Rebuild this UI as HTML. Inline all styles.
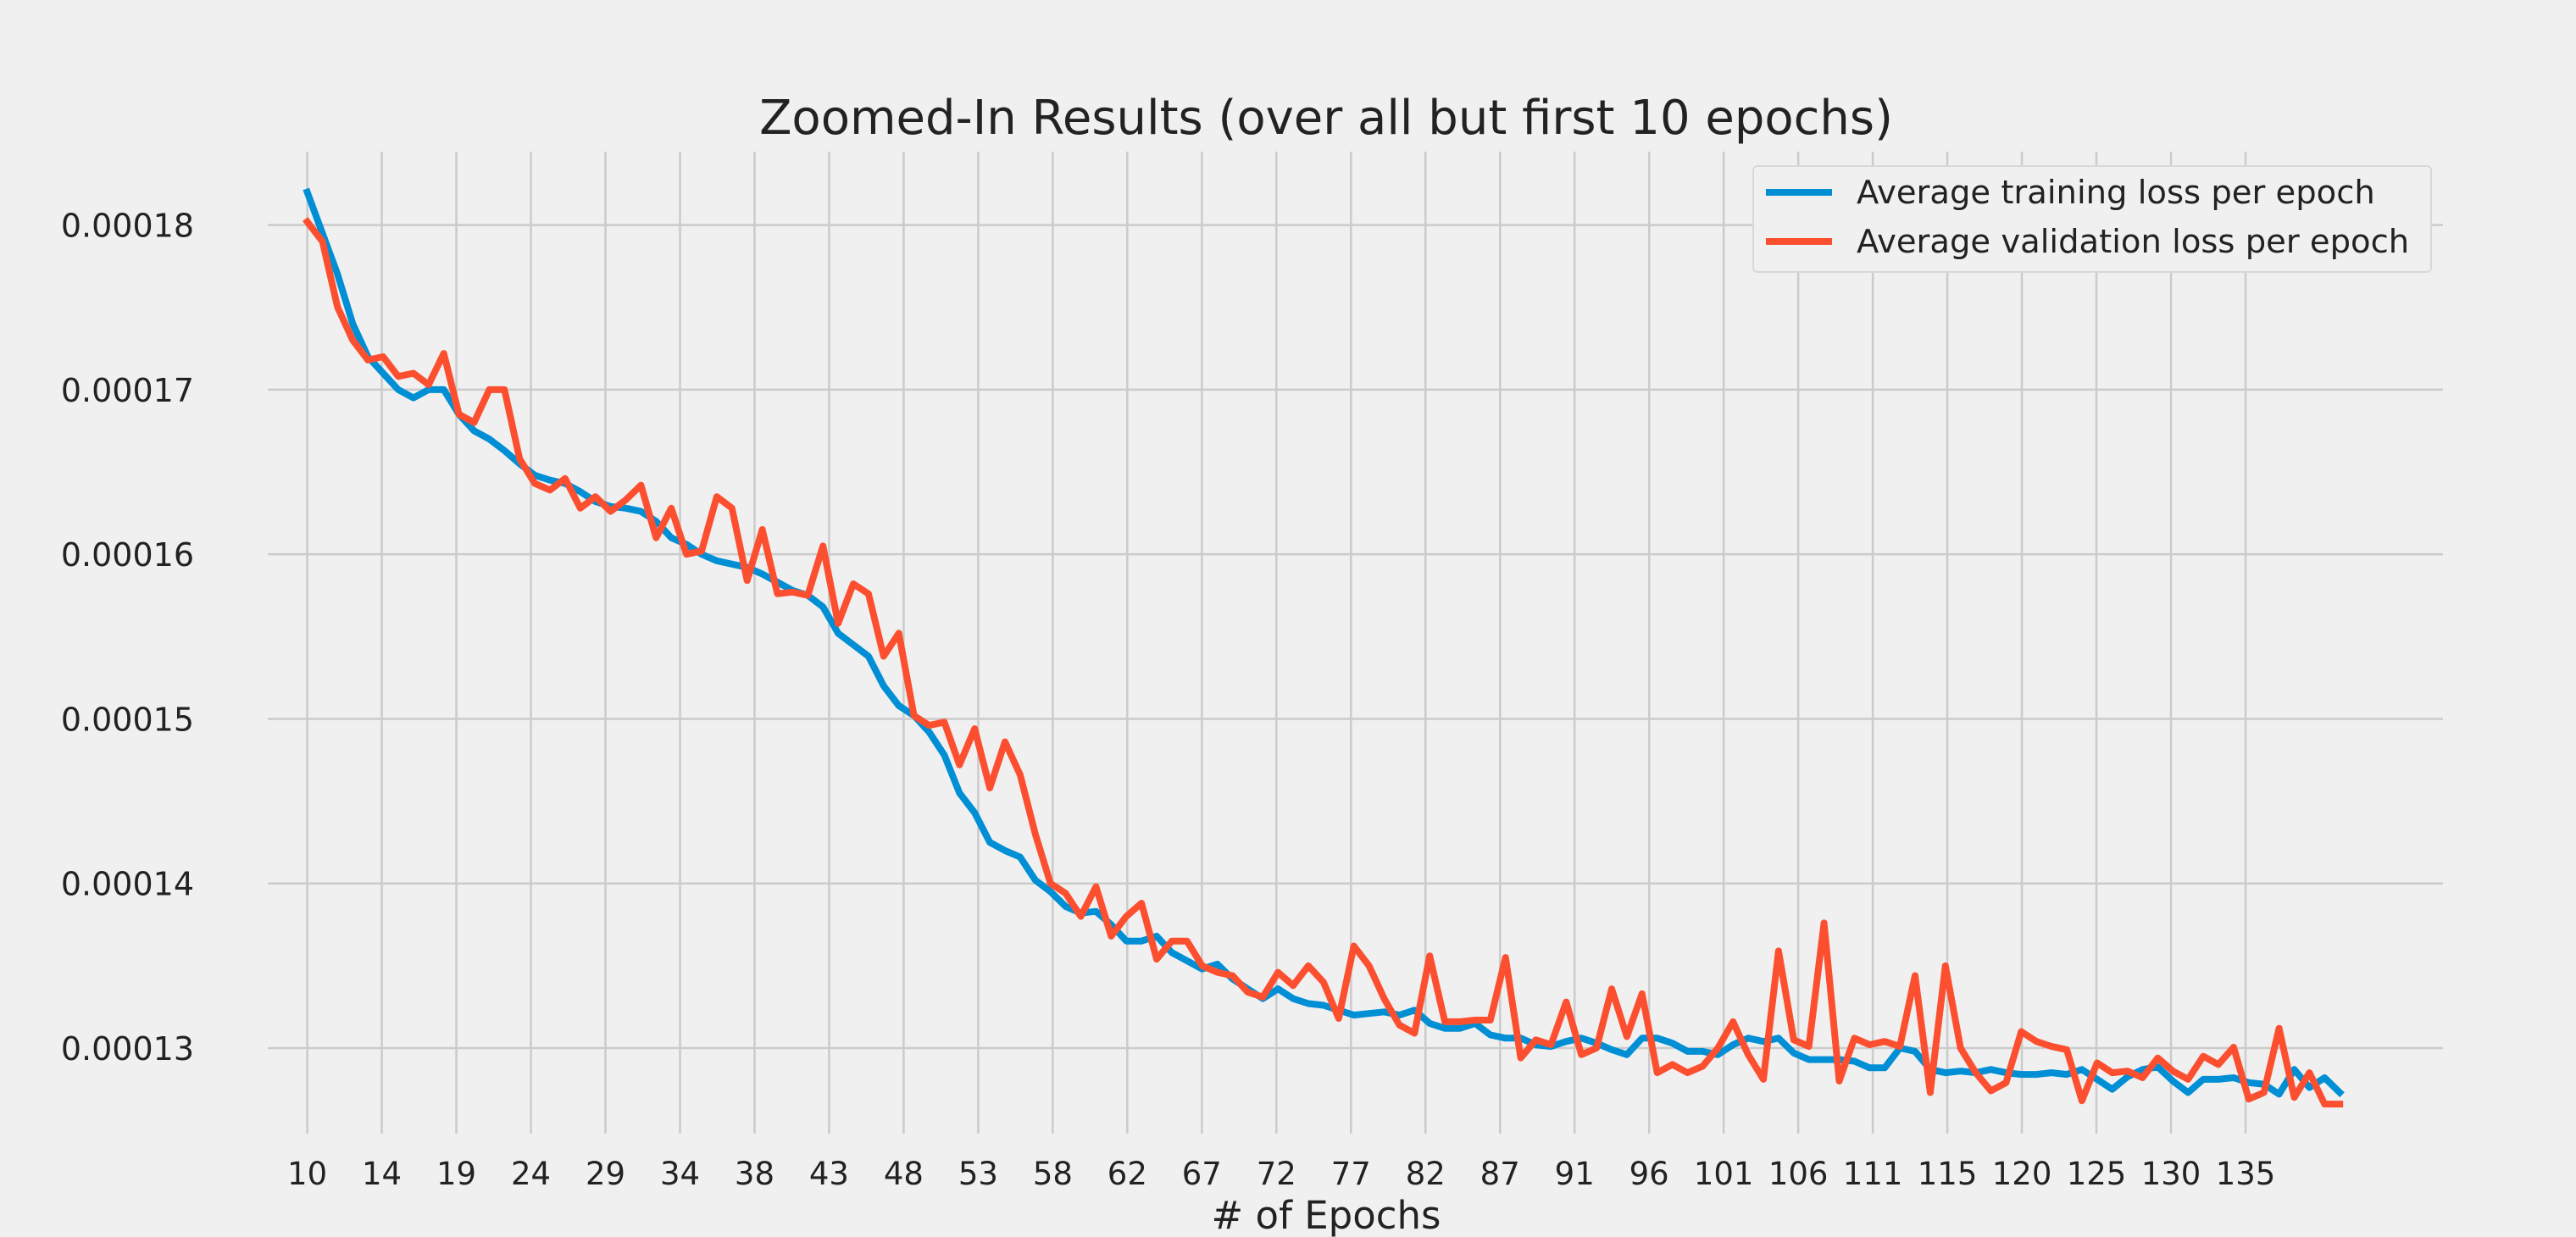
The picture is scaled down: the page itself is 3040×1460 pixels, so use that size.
<!DOCTYPE html>
<html><head><meta charset="utf-8"><style>
html,body{margin:0;padding:0;background:#f0f0f0}
svg{display:block;font-family:"DejaVu Sans","Liberation Sans",sans-serif}
</style></head><body>
<svg id="chart" width="3040" height="1460" viewBox="0 0 3040 1460" xmlns="http://www.w3.org/2000/svg">
<rect width="3040" height="1460" fill="#f0f0f0"/>
<text x="1565" y="158" font-size="56" text-anchor="middle" fill="#222">Zoomed-In Results (over all but first 10 epochs)</text>
<g id="grid"></g>
<g id="ticks"></g>
<g id="series"></g>
<text x="1565" y="1450" font-size="45" text-anchor="middle" fill="#222"># of Epochs</text>
<g>
<rect x="2069" y="196" width="800" height="125" fill="#f0f0f0" stroke="#d8d8d8" stroke-width="2" rx="5"/>
<line x1="2084" y1="227" x2="2162" y2="227" stroke="#008fd5" stroke-width="8"/>
<text x="2191" y="240" font-size="38.5" fill="#222">Average training loss per epoch</text>
<line x1="2084" y1="285" x2="2162" y2="285" stroke="#fc4f30" stroke-width="8"/>
<text x="2191" y="298" font-size="38.5" fill="#222">Average validation loss per epoch</text>
</g>
</svg>
<script>
const xTickLabels=[10,14,19,24,29,34,38,43,48,53,58,62,67,72,77,82,87,91,96,101,106,111,115,120,125,130,135];
const yTickValues=[0.00013,0.00014,0.00015,0.00016,0.00017,0.00018];
const yTickLabels=["0.00013","0.00014","0.00015","0.00016","0.00017","0.00018"];
const trainLoss=[182,179.5,177,174,172,171,170,169.5,170,170,
168.5,167.5,167,166.3,165.5,164.8,164.5,164.3,163.8,163.2,
162.9,162.8,162.6,162,161,160.6,160,159.6,159.4,159.2,
158.8,158.3,157.8,157.5,156.8,155.2,154.5,153.8,152,150.8,
150.2,149.2,147.8,145.5,144.3,142.5,142,141.6,140.2,139.5,
138.6,138.2,138.3,137.5,136.5,136.5,136.8,135.8,135.3,134.8,
135.1,134.2,133.6,133,133.6,133,132.7,132.6,132.3,132,
132.1,132.2,132,132.3,131.5,131.2,131.2,131.5,130.8,130.6,
130.6,130.2,130.1,130.4,130.6,130.3,129.9,129.6,130.6,130.6,
130.3,129.8,129.8,129.6,130.2,130.6,130.4,130.6,129.7,129.3,
129.3,129.3,129.2,128.8,128.8,130,129.8,128.7,128.5,128.6,
128.5,128.7,128.5,128.4,128.4,128.5,128.4,128.7,128.1,127.5,
128.25,128.7,128.85,128,127.3,128.1,128.1,128.2,127.9,127.8,127.2,128.7,127.6,128.2,127.3];
const valLoss=[180.2,179,175,173,171.8,172,170.8,171,170.3,172.2,
168.5,168,170,170,165.8,164.3,163.9,164.6,162.8,163.5,
162.6,163.3,164.2,161,162.8,160,160.2,163.5,162.8,158.4,
161.5,157.6,157.7,157.5,160.5,155.8,158.2,157.6,153.8,155.2,
150.2,149.6,149.8,147.2,149.4,145.8,148.6,146.6,143,140,
139.4,138,139.8,136.8,138,138.8,135.4,136.5,136.5,135,
134.6,134.4,133.4,133.1,134.6,133.8,135,134,131.8,136.2,
135,133,131.4,130.9,135.6,131.6,131.6,131.7,131.7,135.5,
129.4,130.5,130.2,132.8,129.6,130,133.6,130.7,133.3,128.5,
129,128.5,128.9,130,131.6,129.6,128.1,135.9,130.5,130.1,
137.6,128,130.6,130.2,130.4,130.1,134.4,127.3,135,130,
128.5,127.4,127.9,131,130.4,130.1,129.9,126.8,129.1,128.5,
128.6,128.2,129.4,128.6,128.1,129.5,129.0,130.05,126.9,127.3,131.2,127.0,128.5,126.6,126.6];
const NS='http://www.w3.org/2000/svg';
function xIndex(i){return 362.6+i*17.9;}
function xTick(i){return 362.6+i*(2650-362.6)/26;}
function yScale(v){return 265.6+(0.00018-v)/0.00005*(1237-265.6);}
function yUnit(u){return yScale(u*1e-6);}
const grid=document.getElementById('grid'),ticks=document.getElementById('ticks'),series=document.getElementById('series');
function mk(tag,attrs,parent){const el=document.createElementNS(NS,tag);for(const k in attrs)el.setAttribute(k,attrs[k]);parent.appendChild(el);return el;}
xTickLabels.forEach((lab,i)=>{
  const x=xTick(i);
  const l=mk('line',{x1:x,x2:x,y1:179,y2:1338,stroke:'#cbcbcb','stroke-width':2.5},grid);
  
  
  const t=mk('text',{x:x,y:1398,'font-size':37,'text-anchor':'middle',fill:'#222'},ticks);
  
  
  t.textContent=lab;
});
yTickValues.forEach((v,i)=>{
  const y=yScale(v);
  const l=mk('line',{x1:316,x2:2883,y1:y,y2:y,stroke:'#cbcbcb','stroke-width':2.5},grid);
  
  
  const t=mk('text',{x:229,y:y+14,'font-size':38,'text-anchor':'end',fill:'#222'},ticks);
  
  
  t.textContent=yTickLabels[i];
});
function draw(arr,color,name){
  const pts=arr.map((u,i)=>xIndex(i).toFixed(1)+','+yUnit(u).toFixed(1)).join(' ');
  const p=mk('polyline',{points:pts,fill:'none',stroke:color,'stroke-width':8,'stroke-linejoin':'round','stroke-linecap':'square'},series);
  
  
}
draw(trainLoss,'#008fd5','training-loss-line');
draw(valLoss,'#fc4f30','validation-loss-line');
</script>
</body></html>
